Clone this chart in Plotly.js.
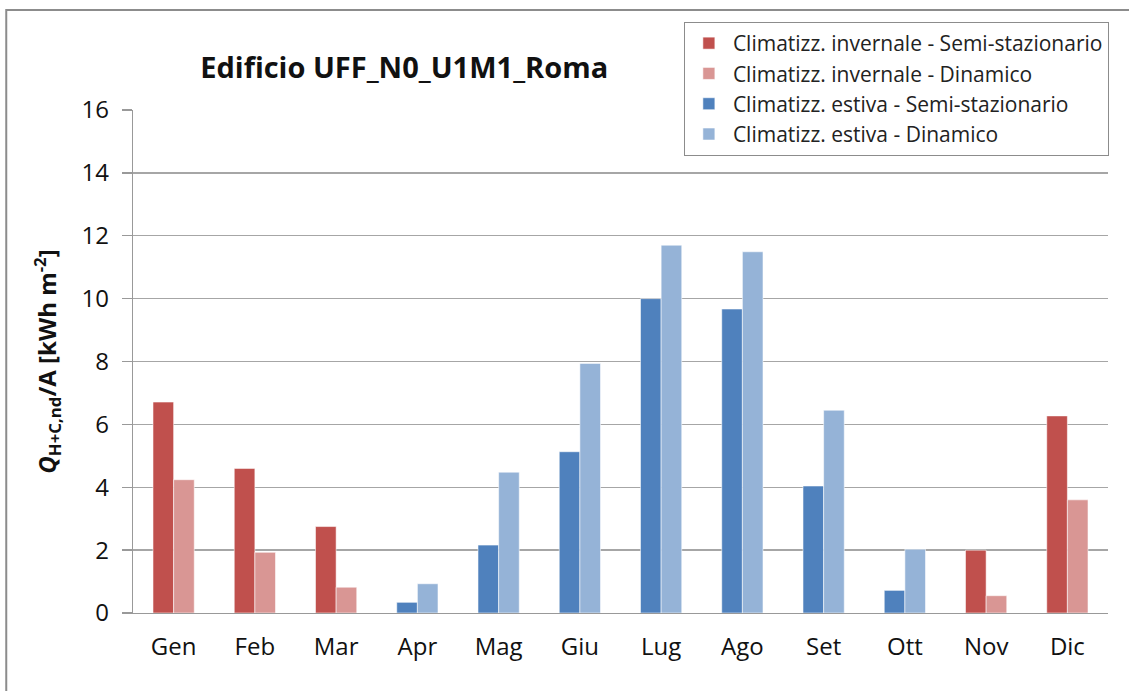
<!DOCTYPE html>
<html>
<head>
<meta charset="utf-8">
<script src="https://cdn.plot.ly/plotly-3.0.1.min.js"></script>
<style>
  html, body { margin: 0; padding: 0; background: #fff; }
  #chart { width: 1129px; height: 691px; }
</style>
</head>
<body>
<div id="chart"></div>
<script>
const months = ["Gen", "Feb", "Mar", "Apr", "Mag", "Giu", "Lug", "Ago", "Set", "Ott", "Nov", "Dic"];
const invernaleSemi = [6.71, 4.60, 2.75, null, null, null, null, null, null, null, 2.00, 6.27];
const invernaleDin  = [4.24, 1.93, 0.82, null, null, null, null, null, null, null, 0.55, 3.60];
const estivaSemi    = [null, null, null, 0.34, 2.16, 5.13, 10.00, 9.67, 4.04, 0.72, null, null];
const estivaDin     = [null, null, null, 0.93, 4.48, 7.94, 11.70, 11.49, 6.45, 2.03, null, null];
const seriesNames = [
  "Climatizz. invernale - Semi-stazionario",
  "Climatizz. invernale - Dinamico",
  "Climatizz. estiva - Semi-stazionario",
  "Climatizz. estiva - Dinamico"
];
const yTicks = [0, 2, 4, 6, 8, 10, 12, 14, 16];

const W = 0.254;
function bar(name, y, color, offset) {
  return {
    type: "bar", name: name, x: months, y: y,
    offset: offset, width: W,
    marker: { color: color, line: { color: "rgba(255,255,255,0.55)", width: 1 } },
    hoverinfo: "x+y+name"
  };
}
const data = [
  bar(seriesNames[0], invernaleSemi, "#C0504D", -W),
  bar(seriesNames[1], invernaleDin, "#D99694", 0),
  bar(seriesNames[2], estivaSemi, "#4F81BD", -W),
  bar(seriesNames[3], estivaDin, "#95B3D7", 0)
];

const font = "'Open Sans', 'Noto Sans', sans-serif";
const layout = {
  width: 1129, height: 691,
  margin: { l: 133, r: 21, t: 110, b: 78 },
  paper_bgcolor: "#fff", plot_bgcolor: "#fff",
  barmode: "overlay",
  font: { family: font, color: "#111", size: 22 },
  title: {
    text: "<b>Edificio UFF_N0_U1M1_Roma</b>",
    font: { family: font, size: 29, color: "#111" },
    x: 0.358, xanchor: "center", xref: "container",
    y: 0.902, yanchor: "middle", yref: "container"
  },
  xaxis: {
    type: "category",
    tickfont: { size: 24, family: font, color: "#111" },
    showline: true, linecolor: "#999", linewidth: 1.3,
    ticks: "", showgrid: false, zeroline: false,
    ticklabelstandoff: 12,
    range: [-0.5, 11.5], fixedrange: true
  },
  yaxis: {
    range: [0, 16], tickvals: yTicks, ticktext: yTicks.map(String),
    tickfont: { size: 24, family: font, color: "#111" },
    showline: true, linecolor: "#999", linewidth: 1.3,
    ticks: "outside", ticklen: 10, tickcolor: "#999", tickwidth: 1.3,
    showgrid: true, gridcolor: "#a6a6a6", gridwidth: 1.3,
    zeroline: false,
    ticklabelstandoff: 8,
    title: {
      text: "<b><i>Q</i><sub>H+C,nd</sub>/A [kWh m<sup>-2</sup>]</b>",
      font: { size: 24, family: font, color: "#111" },
      standoff: 18
    },
    automargin: false, fixedrange: true
  },
  legend: {
    x: 0.565, xanchor: "left", y: 1.175, yanchor: "top",
    bgcolor: "#fff", bordercolor: "#8c8c8c", borderwidth: 1,
    font: { size: 21, family: font, color: "#222" },
    traceorder: "normal", itemwidth: 38, tracegroupgap: 0
  },
  shapes: [{
    type: "rect", xref: "paper", yref: "paper",
    x0: -0.130, x1: 1.03, y0: -0.18, y1: 1.199,
    line: { color: "#8c8c8c", width: 2 }, fillcolor: "rgba(0,0,0,0)", layer: "below"
  }],
  showlegend: true
};

Plotly.newPlot("chart", data, layout, { displayModeBar: false, staticPlot: true });
</script>
</body>
</html>
